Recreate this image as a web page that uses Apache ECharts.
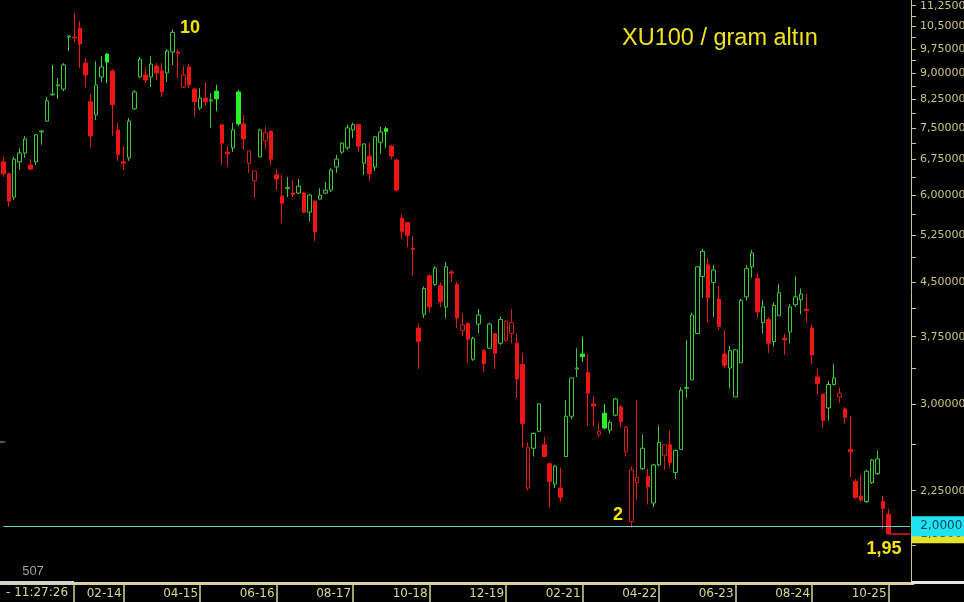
<!DOCTYPE html>
<html><head><meta charset="utf-8">
<script src="https://cdn.jsdelivr.net/npm/echarts@6/dist/echarts.min.js"></script>
<style>html,body{margin:0;padding:0;background:#000;}#c{width:964px;height:602px;}</style>
</head><body><div id="c"></div>
<script>
const months = [
'2012-04','2012-05','2012-06','2012-07','2012-08','2012-09','2012-10','2012-11','2012-12',
'2013-01','2013-02','2013-03','2013-04','2013-05','2013-06','2013-07','2013-08','2013-09','2013-10','2013-11','2013-12',
'2014-01','2014-02','2014-03','2014-04','2014-05','2014-06','2014-07','2014-08','2014-09','2014-10','2014-11','2014-12',
'2015-01','2015-02','2015-03','2015-04','2015-05','2015-06','2015-07','2015-08','2015-09','2015-10','2015-11','2015-12',
'2016-01','2016-02','2016-03','2016-04','2016-05','2016-06','2016-07','2016-08','2016-09','2016-10','2016-11','2016-12',
'2017-01','2017-02','2017-03','2017-04','2017-05','2017-06','2017-07','2017-08','2017-09','2017-10','2017-11','2017-12',
'2018-01','2018-02','2018-03','2018-04','2018-05','2018-06','2018-07','2018-08','2018-09','2018-10','2018-11','2018-12',
'2019-01','2019-02','2019-03','2019-04','2019-05','2019-06','2019-07','2019-08','2019-09','2019-10','2019-11','2019-12',
'2020-01','2020-02','2020-03','2020-04','2020-05','2020-06','2020-07','2020-08','2020-09','2020-10','2020-11','2020-12',
'2021-01','2021-02','2021-03','2021-04','2021-05','2021-06','2021-07','2021-08','2021-09','2021-10','2021-11','2021-12',
'2022-01','2022-02','2022-03','2022-04','2022-05','2022-06','2022-07','2022-08','2022-09','2022-10','2022-11','2022-12',
'2023-01','2023-02','2023-03','2023-04','2023-05','2023-06','2023-07','2023-08','2023-09','2023-10','2023-11','2023-12',
'2024-01','2024-02','2024-03','2024-04','2024-05','2024-06','2024-07','2024-08','2024-09','2024-10','2024-11','2024-12',
'2025-01','2025-02','2025-03','2025-04','2025-05','2025-06','2025-07','2025-08','2025-09','2025-10'];

const opens = [6.70,6.44,5.96,6.70,6.90,6.63,6.70,7.40,7.67,8.37,8.62,8.53,10.14,10.14,10.44,9.30,8.18,7.83,8.88,9.58,
9.06,7.45,6.70,6.79,7.99,8.88,8.94,8.88,9.21,9.06,9.00,9.65,9.65,8.59,9.18,8.53,8.01,8.28,8.20,8.47,
7.58,6.92,7.02,8.45,7.60,6.67,6.29,6.81,7.18,7.42,6.42,5.98,6.13,6.04,6.04,6.04,5.67,5.88,5.92,6.04,
6.10,6.59,6.92,7.02,7.45,7.58,6.67,6.83,6.59,7.15,7.48,7.06,6.74,5.56,5.48,5.03,3.86,4.04,4.59,4.46,
4.44,4.14,4.65,4.46,3.83,3.92,3.48,3.91,3.58,3.61,3.79,3.67,3.70,3.79,3.67,3.42,2.27,2.59,2.74,2.62,
2.46,2.30,2.27,2.52,2.88,3.37,3.54,3.33,3.00,2.71,2.91,2.75,2.89,2.97,2.56,2.03,2.31,2.42,2.36,2.16,
2.45,2.53,2.62,2.39,2.58,3.16,3.25,3.79,4.58,4.76,4.49,4.25,3.54,3.38,3.07,3.44,4.28,4.73,4.55,3.93,
3.97,3.69,4.02,3.73,3.81,4.17,4.24,4.11,3.86,3.28,3.10,2.96,3.20,3.07,2.95,2.58,2.32,2.21,2.17,2.31,
2.38,2.17,2.08];
const closes = [6.44,5.88,6.76,6.90,7.23,6.54,7.33,7.42,8.20,8.39,8.65,9.24,10.17,10.11,9.91,8.94,7.30,8.65,9.18,9.33,
8.10,6.86,6.67,7.67,8.45,9.42,8.79,9.27,9.00,8.45,9.68,10.30,9.61,8.94,8.65,8.18,8.28,8.18,8.23,8.26,
7.13,6.88,7.45,7.60,7.23,6.95,6.50,7.45,7.38,6.76,6.33,5.84,6.15,6.01,6.18,5.67,6.00,5.31,6.00,6.10,
6.52,6.76,7.13,7.50,7.58,7.06,7.11,6.44,7.28,7.40,7.41,6.83,6.10,5.32,5.25,5.01,3.69,4.40,4.14,4.71,
4.21,4.73,4.63,3.99,3.90,3.72,3.73,4.03,3.43,3.91,3.55,3.97,3.95,3.93,3.26,2.81,2.60,2.72,3.00,2.52,
2.32,2.44,2.20,2.88,3.27,3.38,3.51,3.11,2.98,2.74,2.77,2.82,3.05,2.83,2.78,2.41,2.35,2.59,2.28,2.45,
2.64,2.62,2.47,2.57,3.14,3.17,4.03,4.73,4.98,4.27,4.68,3.88,3.41,3.58,3.59,4.23,4.70,4.95,4.07,4.14,
3.67,4.16,4.34,3.71,4.14,4.28,4.32,4.09,3.53,3.21,2.84,3.20,3.27,3.11,2.87,2.56,2.20,2.18,2.40,2.49,
2.50,2.12,1.95];
const lows = [6.37,5.77,5.90,6.52,6.79,6.52,6.63,7.09,7.66,8.35,8.26,8.47,9.68,9.97,9.15,8.59,7.04,7.70,8.73,8.70,
7.30,6.72,6.52,6.72,7.96,8.85,8.70,8.59,8.79,8.31,8.73,9.24,8.85,8.56,8.56,7.78,7.96,8.07,7.50,7.93,
6.63,6.59,6.92,7.55,6.97,6.46,5.94,6.80,6.99,6.63,6.10,5.47,5.96,5.96,6.02,5.65,5.50,5.15,5.92,6.02,
6.06,6.46,6.88,6.97,7.25,6.92,6.42,6.29,6.50,6.88,7.02,6.76,6.08,5.19,5.05,4.59,3.37,3.99,4.06,4.44,
4.14,3.99,4.50,3.86,3.76,3.44,3.46,3.79,3.33,3.60,3.37,3.65,3.69,3.67,3.06,2.59,2.25,2.52,2.73,2.51,
2.13,2.27,2.17,2.52,2.85,3.28,3.45,2.79,2.78,2.69,2.76,2.72,2.88,2.78,2.52,1.99,2.18,2.41,2.15,2.13,
2.44,2.41,2.43,2.34,2.58,3.06,3.25,3.79,4.27,3.93,4.00,3.84,3.38,3.16,3.07,3.44,4.23,4.56,4.00,3.79,
3.55,3.63,4.02,3.53,3.67,4.14,4.04,3.93,3.42,3.09,2.77,2.84,3.19,3.01,2.81,2.35,2.19,2.17,2.16,2.30,
2.37,1.98,1.95];
const highs = [6.81,6.46,6.81,7.02,7.30,6.76,7.35,7.45,8.31,9.24,8.85,9.30,10.20,10.98,10.69,9.45,8.39,9.36,9.52,9.61,
9.12,7.63,7.06,7.75,8.50,9.49,9.18,9.52,9.30,9.30,9.74,10.40,9.74,9.21,9.27,8.56,8.56,8.73,8.42,8.65,
7.58,7.06,7.63,8.50,7.83,6.95,6.50,7.48,7.53,7.42,6.54,6.42,6.37,6.31,6.33,6.06,6.02,5.90,6.14,6.27,
6.56,6.86,7.15,7.58,7.63,7.58,7.13,7.13,7.30,7.53,7.53,7.09,6.76,5.63,5.48,5.24,3.92,4.43,4.61,4.74,
4.49,4.81,4.68,4.50,4.06,3.93,3.75,4.11,3.60,3.93,3.79,4.01,3.97,4.11,3.79,3.55,2.64,2.73,3.01,2.69,
2.47,2.45,2.43,3.04,3.27,3.61,3.75,3.54,3.08,2.82,3.00,2.84,3.06,2.99,2.79,2.44,3.04,2.71,2.42,2.46,
2.79,2.62,2.75,2.58,3.17,3.71,4.06,4.74,5.02,4.87,4.76,4.44,3.83,3.64,3.60,4.25,4.76,5.00,4.63,4.24,
4.00,4.20,4.47,3.79,4.18,4.58,4.40,4.32,3.90,3.37,3.10,3.24,3.43,3.17,2.97,2.88,2.34,2.37,2.41,2.50,
2.57,2.21,2.12];

const yLabelValues = [2.25,3,3.75,4.5,5.25,6,6.75,7.5,8.25,9,9.75,10.5,11.25];
const yTickValues = [1.875,2.25,2.625,3,3.375,3.75,4.125,4.5,4.875,5.25,5.625,6,6.375,6.75,7.125,7.5,7.875,8.25,8.625,9,9.375,9.75,10.125,10.5,10.875,11.25];
const xLabelMonths = ['2014-02','2015-04','2016-06','2017-08','2018-10','2019-12','2021-02','2022-04','2023-06','2024-08','2025-10'];
const padCategories = ['pad1','pad2','pad3','pad4'];
const refLevel = 2.0;
const yMin = 1.656, yMax = 11.465;

const GREEN_HOLLOW = '#3cc83c', GREEN_FILL = '#2af02a', RED_FILL = '#f01515', RED_HOLLOW = '#d81a1a';
const items = months.map((m, i) => {
  const o = opens[i], c = closes[i];
  const prev = i > 0 ? closes[i - 1] : o;
  const up = c >= prev;
  const filled = c < o;
  let fill, border;
  if (up) { border = filled ? GREEN_FILL : GREEN_HOLLOW; fill = filled ? GREEN_FILL : '#000'; }
  else { border = filled ? RED_FILL : RED_HOLLOW; fill = filled ? RED_FILL : '#000'; }
  return { value: [o, c, lows[i], highs[i]],
    itemStyle: { color: fill, color0: fill, borderColor: border, borderColor0: border, borderColorDoji: border } };
});
const cats = months.concat(padCategories);
const xLabelSet = new Set(xLabelMonths);
const last = months.length - 1;
const fmt = (v, d) => v.toFixed(d).replace('.', ',');

const chart = echarts.init(document.getElementById('c'), null, { renderer: 'canvas' });
chart.setOption({
  backgroundColor: '#000',
  animation: false,
  title: { text: 'XU100 / gram altın', left: 622, top: 27, padding: 0,
    textStyle: { color: '#f2e41c', fontSize: 23.5, fontWeight: 'normal', fontFamily: 'Liberation Sans' } },
  grid: { left: 0.57, right: 50.9, top: 0, bottom: 19, outerBoundsMode: 'none', containLabel: false },
  xAxis: {
    type: 'category', data: cats, boundaryGap: true,
    axisLine: { lineStyle: { color: '#d6d29a', width: 3 } },
    axisTick: { show: true, alignWithLabel: true, length: 19, interval: (i, v) => xLabelSet.has(v),
      lineStyle: { color: '#d6d29a', width: 1.5 } },
    axisLabel: { interval: (i, v) => xLabelSet.has(v), align: 'right', margin: 5, padding: [0, 2, 0, 0],
      color: '#d8d890', fontSize: 12, fontFamily: 'DejaVu Sans',
      formatter: v => v.slice(5, 7) + '-' + v.slice(2, 4) },
    splitLine: { show: false }
  },
  yAxis: {
    type: 'log', position: 'right', offset: -2, min: yMin, max: yMax, logBase: 10,
    axisLine: { show: true, lineStyle: { color: '#c8c48c', width: 1 } },
    axisTick: { show: true, inside: false, length: 5, customValues: yTickValues,
      lineStyle: { color: '#c8c48c', width: 1 } },
    axisLabel: { customValues: yLabelValues, margin: 9, color: '#c8c47c', fontSize: 11,
      fontFamily: 'DejaVu Sans', formatter: v => fmt(v, 5) },
    splitLine: { show: false }
  },
  series: [{
    type: 'candlestick', barWidth: 4, data: items,
    itemStyle: { borderWidth: 1 },
    markLine: {
      silent: true, symbol: ['none', 'none'], animation: false,
      data: [
        [ { coord: [months[last], closes[last]], lineStyle: { color: '#e01818', width: 1.5, type: 'solid' },
            label: { show: true, position: 'end', distance: 1, formatter: fmt(closes[last], 5),
              backgroundColor: '#e6e22a', color: '#3a3a3a', fontSize: 12, fontFamily: 'DejaVu Sans',
              padding: [3, 0, 3, 9], width: 44, lineHeight: 13 } },
          { coord: ['pad4', closes[last]] } ],
        [ { coord: [months[0], refLevel], lineStyle: { color: '#6fd0d0', width: 1, type: 'solid' },
            label: { show: true, position: 'end', distance: 1, formatter: fmt(refLevel, 4),
              backgroundColor: '#1ee4f2', color: '#1c3c58', fontSize: 12, fontFamily: 'DejaVu Sans',
              padding: [4, 0, 3, 9], width: 44, lineHeight: 13 } },
          { coord: ['pad4', refLevel] } ]
      ]
    }
  }],
  graphic: [
    { type: 'rect', z: 100, shape: { x: 0, y: 581, width: 74, height: 3 }, style: { fill: '#d4d4d4' } },
    { type: 'rect', z: 100, shape: { x: 911, y: 581, width: 53, height: 3 }, style: { fill: '#e4e4e4' } },
    { type: 'line', z: 100, shape: { x1: 74, y1: 583, x2: 74, y2: 602 }, style: { stroke: '#d6d29a', lineWidth: 1.5 } },
    { type: 'line', z: 100, shape: { x1: 0, y1: 442, x2: 5, y2: 442 }, style: { stroke: '#5cc8c8', lineWidth: 1 } },
    { type: 'text', z: 100, x: 6, y: 593, style: { text: '- 11:27:26', fill: '#d8d890', font: '12px "DejaVu Sans"', verticalAlign: 'middle' } },
    { type: 'text', z: 100, x: 33, y: 571, style: { text: '507', fill: '#a0a0a0', font: '13px "Liberation Sans"', align: 'center', verticalAlign: 'middle' } },
    { type: 'text', z: 100, x: 190, y: 28, style: { text: '10', fill: '#f5e400', font: 'bold 18px "Liberation Sans"', align: 'center', verticalAlign: 'middle' } },
    { type: 'text', z: 100, x: 618, y: 515.5, style: { text: '2', fill: '#f5e400', font: 'bold 18px "Liberation Sans"', align: 'center', verticalAlign: 'middle' } },
    { type: 'text', z: 100, x: 884, y: 549, style: { text: '1,95', fill: '#f5e400', font: 'bold 18px "Liberation Sans"', align: 'center', verticalAlign: 'middle' } }
  ]
});
</script>
</body></html>
